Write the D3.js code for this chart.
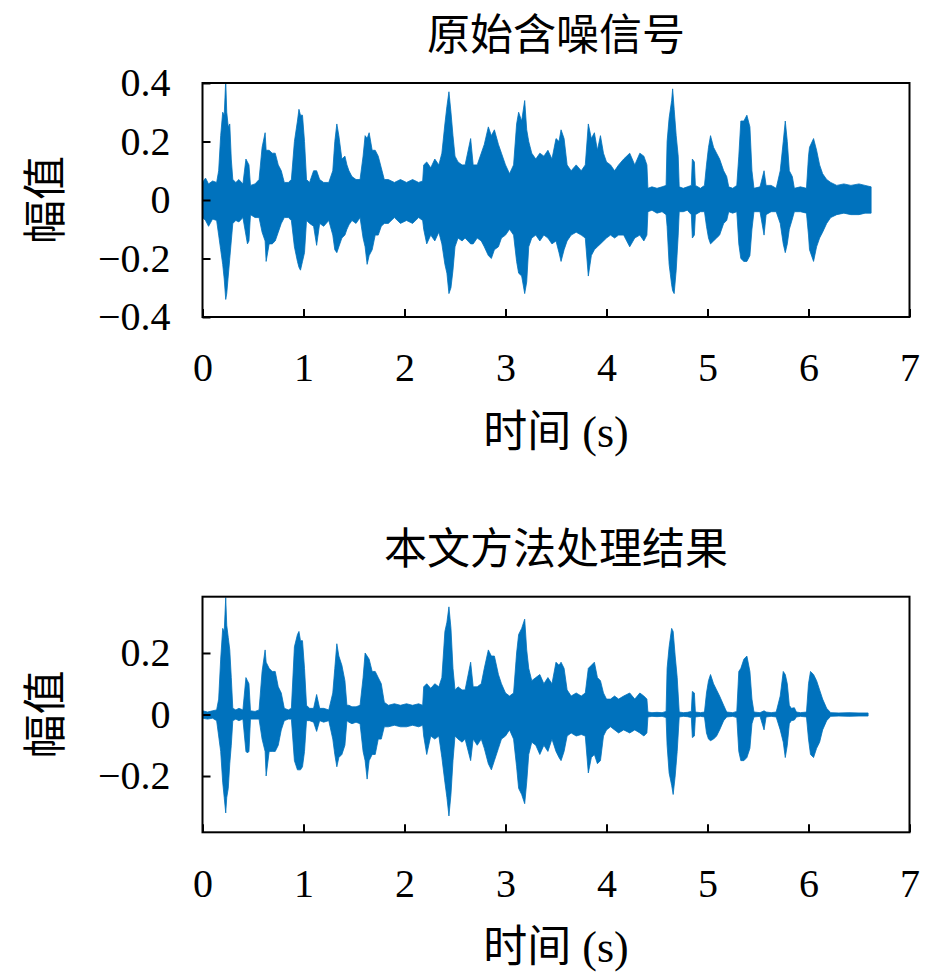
<!DOCTYPE html>
<html>
<head>
<meta charset="utf-8">
<script src="https://cdn.jsdelivr.net/npm/d3@7"></script>
<style>
  body { margin: 0; background: #fff; }
  svg { display: block; }
</style>
</head>
<body>
<div id="chart"></div>
<script>
'use strict';

// x axis, shared by both panels
const timeTicks = [0, 1, 2, 3, 4, 5, 6, 7];

// top panel: noisy speech, envelope (s, upper, lower)
const noisyYTicks = [-0.4, -0.2, 0, 0.2, 0.4];
const noisyTime = [
  0.00, 0.03, 0.06, 0.10, 0.14, 0.16, 0.18, 0.20, 0.215, 0.23,
  0.24, 0.255, 0.27, 0.285, 0.30, 0.33, 0.36, 0.40, 0.43, 0.445,
  0.46, 0.475, 0.52, 0.56, 0.59, 0.62, 0.63, 0.66, 0.69, 0.72,
  0.75, 0.78, 0.81, 0.85, 0.88, 0.91, 0.94, 0.955, 0.97, 0.99,
  1.01, 1.03, 1.06, 1.10, 1.13, 1.16, 1.20, 1.25, 1.29, 1.31,
  1.33, 1.35, 1.38, 1.41, 1.43, 1.45, 1.48, 1.52, 1.56, 1.59,
  1.61, 1.63, 1.65, 1.68, 1.71, 1.74, 1.77, 1.80, 1.84, 1.90,
  1.96, 2.02, 2.08, 2.14, 2.18, 2.19, 2.22, 2.26, 2.30, 2.34,
  2.37, 2.40, 2.42, 2.44, 2.46, 2.48, 2.50, 2.53, 2.57, 2.60,
  2.655, 2.68, 2.72, 2.76, 2.79, 2.83, 2.86, 2.89, 2.93, 2.96,
  3.00, 3.04, 3.08, 3.11, 3.13, 3.16, 3.19, 3.21, 3.23, 3.26,
  3.30, 3.34, 3.38, 3.42, 3.46, 3.50, 3.53, 3.55, 3.58, 3.61,
  3.65, 3.70, 3.75, 3.79, 3.82, 3.85, 3.88, 3.91, 3.94, 3.97,
  4.00, 4.04, 4.08, 4.12, 4.17, 4.23, 4.28, 4.33, 4.37, 4.40,
  4.41, 4.45, 4.50, 4.55, 4.59, 4.60, 4.62, 4.645, 4.655, 4.67,
  4.69, 4.71, 4.72, 4.76, 4.80, 4.84, 4.85, 4.87, 4.88, 4.93,
  4.97, 4.99, 5.01, 5.03, 5.06, 5.09, 5.12, 5.16, 5.19, 5.21,
  5.25, 5.29, 5.31, 5.33, 5.36, 5.39, 5.42, 5.44, 5.46, 5.52,
  5.56, 5.58, 5.63, 5.68, 5.72, 5.75, 5.77, 5.79, 5.81, 5.84,
  5.86, 5.92, 5.98, 6.00, 6.01, 6.05, 6.08, 6.11, 6.14, 6.18,
  6.22, 6.28, 6.35, 6.42, 6.50, 6.56, 6.62
];
const noisyUpper = [
  0.060, 0.075, 0.055, 0.065, 0.060, 0.100, 0.220, 0.300, 0.290, 0.410,
  0.300, 0.250, 0.260, 0.140, 0.070, 0.060, 0.070, 0.055, 0.140, 0.130,
  0.120, 0.050, 0.055, 0.070, 0.180, 0.230, 0.170, 0.170, 0.160, 0.160,
  0.120, 0.100, 0.060, 0.060, 0.070, 0.200, 0.270, 0.310, 0.290, 0.290,
  0.200, 0.070, 0.060, 0.100, 0.100, 0.070, 0.060, 0.060, 0.100, 0.200,
  0.260, 0.220, 0.140, 0.150, 0.120, 0.100, 0.080, 0.070, 0.070, 0.150,
  0.220, 0.210, 0.230, 0.170, 0.170, 0.150, 0.110, 0.070, 0.070, 0.060,
  0.070, 0.060, 0.070, 0.060, 0.065, 0.120, 0.130, 0.110, 0.140, 0.120,
  0.160, 0.260, 0.320, 0.370, 0.300, 0.220, 0.150, 0.130, 0.120, 0.120,
  0.210, 0.120, 0.120, 0.160, 0.190, 0.250, 0.220, 0.240, 0.190, 0.160,
  0.120, 0.090, 0.120, 0.260, 0.300, 0.270, 0.340, 0.240, 0.200, 0.160,
  0.140, 0.160, 0.150, 0.170, 0.140, 0.210, 0.200, 0.240, 0.210, 0.120,
  0.100, 0.120, 0.100, 0.120, 0.260, 0.210, 0.230, 0.170, 0.220, 0.160,
  0.130, 0.120, 0.100, 0.120, 0.140, 0.160, 0.120, 0.160, 0.150, 0.120,
  0.040, 0.045, 0.040, 0.045, 0.050, 0.200, 0.280, 0.340, 0.380, 0.310,
  0.220, 0.150, 0.045, 0.040, 0.045, 0.050, 0.140, 0.130, 0.050, 0.040,
  0.050, 0.120, 0.180, 0.220, 0.180, 0.160, 0.140, 0.100, 0.080, 0.045,
  0.040, 0.050, 0.150, 0.270, 0.270, 0.290, 0.250, 0.100, 0.040, 0.045,
  0.100, 0.050, 0.050, 0.040, 0.100, 0.200, 0.270, 0.200, 0.100, 0.080,
  0.040, 0.045, 0.040, 0.150, 0.180, 0.210, 0.170, 0.120, 0.090, 0.070,
  0.060, 0.050, 0.055, 0.050, 0.055, 0.050, 0.045
];
const noisyLower = [
  -0.060, -0.070, -0.090, -0.065, -0.070, -0.120, -0.170, -0.220, -0.270, -0.340,
  -0.320, -0.260, -0.200, -0.140, -0.080, -0.070, -0.075, -0.060, -0.120, -0.150,
  -0.140, -0.050, -0.060, -0.060, -0.110, -0.140, -0.210, -0.150, -0.150, -0.140,
  -0.110, -0.080, -0.060, -0.060, -0.070, -0.160, -0.210, -0.230, -0.240, -0.210,
  -0.180, -0.070, -0.080, -0.090, -0.155, -0.080, -0.090, -0.070, -0.120, -0.170,
  -0.180, -0.160, -0.130, -0.120, -0.100, -0.085, -0.070, -0.080, -0.060, -0.130,
  -0.160, -0.220, -0.190, -0.170, -0.120, -0.120, -0.090, -0.080, -0.080, -0.060,
  -0.080, -0.070, -0.080, -0.060, -0.070, -0.100, -0.150, -0.120, -0.140, -0.110,
  -0.150, -0.220, -0.250, -0.320, -0.300, -0.240, -0.160, -0.130, -0.140, -0.130,
  -0.150, -0.150, -0.130, -0.140, -0.160, -0.190, -0.200, -0.170, -0.160, -0.130,
  -0.120, -0.100, -0.120, -0.210, -0.250, -0.260, -0.320, -0.280, -0.160, -0.130,
  -0.120, -0.140, -0.120, -0.130, -0.150, -0.140, -0.180, -0.210, -0.170, -0.140,
  -0.120, -0.110, -0.120, -0.130, -0.260, -0.190, -0.170, -0.160, -0.150, -0.140,
  -0.130, -0.120, -0.130, -0.120, -0.120, -0.160, -0.130, -0.120, -0.140, -0.120,
  -0.040, -0.035, -0.045, -0.040, -0.050, -0.090, -0.220, -0.290, -0.310, -0.320,
  -0.240, -0.120, -0.040, -0.040, -0.035, -0.050, -0.130, -0.120, -0.050, -0.040,
  -0.040, -0.090, -0.130, -0.150, -0.140, -0.130, -0.120, -0.080, -0.070, -0.040,
  -0.045, -0.040, -0.150, -0.200, -0.210, -0.210, -0.190, -0.100, -0.040, -0.040,
  -0.120, -0.050, -0.040, -0.040, -0.080, -0.150, -0.180, -0.150, -0.100, -0.065,
  -0.040, -0.040, -0.045, -0.120, -0.170, -0.210, -0.160, -0.130, -0.110, -0.080,
  -0.060, -0.050, -0.045, -0.050, -0.050, -0.045, -0.045
];

// bottom panel: denoised result
const cleanYTicks = [-0.2, 0, 0.2];
const cleanTime = [
  0.00, 0.05, 0.10, 0.14, 0.16, 0.18, 0.20, 0.215, 0.23, 0.24,
  0.255, 0.27, 0.285, 0.30, 0.33, 0.36, 0.40, 0.43, 0.445, 0.46,
  0.475, 0.52, 0.56, 0.59, 0.62, 0.63, 0.66, 0.69, 0.72, 0.75,
  0.78, 0.81, 0.85, 0.88, 0.91, 0.94, 0.955, 0.97, 0.99, 1.01,
  1.03, 1.06, 1.10, 1.13, 1.16, 1.20, 1.25, 1.29, 1.31, 1.33,
  1.35, 1.38, 1.41, 1.43, 1.45, 1.48, 1.52, 1.56, 1.59, 1.61,
  1.63, 1.65, 1.68, 1.71, 1.74, 1.77, 1.80, 1.84, 1.90, 1.96,
  2.02, 2.08, 2.14, 2.18, 2.19, 2.22, 2.26, 2.30, 2.34, 2.37,
  2.40, 2.42, 2.44, 2.46, 2.48, 2.50, 2.53, 2.57, 2.60, 2.655,
  2.68, 2.72, 2.76, 2.79, 2.83, 2.86, 2.89, 2.93, 2.96, 3.00,
  3.04, 3.08, 3.11, 3.13, 3.16, 3.19, 3.21, 3.23, 3.26, 3.30,
  3.34, 3.38, 3.42, 3.46, 3.50, 3.53, 3.55, 3.58, 3.61, 3.65,
  3.70, 3.75, 3.79, 3.82, 3.85, 3.88, 3.91, 3.94, 3.97, 4.00,
  4.04, 4.08, 4.12, 4.17, 4.23, 4.28, 4.33, 4.37, 4.40, 4.41,
  4.45, 4.50, 4.55, 4.59, 4.60, 4.62, 4.645, 4.66, 4.68, 4.70,
  4.72, 4.76, 4.80, 4.84, 4.85, 4.87, 4.88, 4.93, 4.97, 4.99,
  5.01, 5.03, 5.06, 5.09, 5.12, 5.16, 5.19, 5.25, 5.29, 5.31,
  5.33, 5.36, 5.39, 5.42, 5.44, 5.46, 5.52, 5.56, 5.58, 5.63,
  5.68, 5.72, 5.75, 5.77, 5.79, 5.81, 5.83, 5.86, 5.88, 5.92,
  5.98, 6.00, 6.02, 6.05, 6.08, 6.11, 6.14, 6.18, 6.22, 6.30,
  6.40, 6.50, 6.59
];
const cleanUpper = [
  0.012, 0.008, 0.012, 0.015, 0.050, 0.180, 0.280, 0.270, 0.380, 0.290,
  0.250, 0.210, 0.120, 0.020, 0.015, 0.020, 0.015, 0.120, 0.110, 0.100,
  0.012, 0.010, 0.015, 0.140, 0.210, 0.170, 0.150, 0.140, 0.140, 0.090,
  0.070, 0.020, 0.015, 0.020, 0.220, 0.260, 0.270, 0.240, 0.240, 0.150,
  0.030, 0.020, 0.020, 0.065, 0.020, 0.020, 0.015, 0.070, 0.150, 0.230,
  0.190, 0.160, 0.110, 0.030, 0.030, 0.025, 0.025, 0.030, 0.120, 0.200,
  0.190, 0.180, 0.140, 0.140, 0.120, 0.100, 0.040, 0.030, 0.035, 0.030,
  0.035, 0.030, 0.035, 0.030, 0.090, 0.100, 0.085, 0.100, 0.090, 0.120,
  0.270, 0.300, 0.350, 0.280, 0.150, 0.080, 0.090, 0.080, 0.080, 0.170,
  0.090, 0.090, 0.100, 0.150, 0.210, 0.190, 0.190, 0.130, 0.100, 0.070,
  0.060, 0.070, 0.200, 0.260, 0.280, 0.310, 0.210, 0.150, 0.110, 0.120,
  0.130, 0.100, 0.120, 0.100, 0.170, 0.160, 0.170, 0.150, 0.080, 0.060,
  0.070, 0.060, 0.070, 0.150, 0.160, 0.170, 0.120, 0.110, 0.070, 0.050,
  0.050, 0.060, 0.050, 0.060, 0.070, 0.050, 0.070, 0.060, 0.050, 0.008,
  0.006, 0.007, 0.006, 0.010, 0.150, 0.220, 0.280, 0.270, 0.190, 0.120,
  0.008, 0.006, 0.007, 0.010, 0.075, 0.070, 0.008, 0.006, 0.008, 0.070,
  0.110, 0.130, 0.100, 0.080, 0.060, 0.030, 0.008, 0.006, 0.010, 0.140,
  0.150, 0.180, 0.190, 0.140, 0.050, 0.008, 0.006, 0.012, 0.008, 0.006,
  0.008, 0.060, 0.140, 0.130, 0.100, 0.030, 0.020, 0.022, 0.008, 0.006,
  0.008, 0.100, 0.140, 0.130, 0.110, 0.080, 0.050, 0.020, 0.006, 0.005,
  0.006, 0.005, 0.005
];
const cleanLower = [
  -0.012, -0.015, -0.012, -0.020, -0.070, -0.120, -0.220, -0.270, -0.320, -0.270,
  -0.240, -0.160, -0.100, -0.020, -0.015, -0.020, -0.015, -0.120, -0.125, -0.120,
  -0.015, -0.015, -0.015, -0.080, -0.120, -0.200, -0.120, -0.120, -0.120, -0.100,
  -0.050, -0.020, -0.015, -0.015, -0.150, -0.180, -0.180, -0.180, -0.170, -0.120,
  -0.020, -0.020, -0.025, -0.055, -0.020, -0.025, -0.020, -0.080, -0.130, -0.170,
  -0.140, -0.130, -0.100, -0.020, -0.025, -0.030, -0.025, -0.030, -0.120, -0.150,
  -0.210, -0.150, -0.130, -0.130, -0.080, -0.080, -0.040, -0.040, -0.035, -0.040,
  -0.040, -0.035, -0.040, -0.035, -0.070, -0.130, -0.070, -0.080, -0.070, -0.140,
  -0.220, -0.270, -0.330, -0.260, -0.150, -0.070, -0.080, -0.090, -0.080, -0.150,
  -0.080, -0.100, -0.080, -0.110, -0.160, -0.180, -0.150, -0.110, -0.080, -0.070,
  -0.050, -0.080, -0.170, -0.240, -0.260, -0.290, -0.220, -0.130, -0.090, -0.100,
  -0.130, -0.100, -0.120, -0.080, -0.120, -0.140, -0.150, -0.120, -0.070, -0.060,
  -0.070, -0.065, -0.070, -0.190, -0.140, -0.130, -0.160, -0.150, -0.070, -0.050,
  -0.040, -0.050, -0.060, -0.050, -0.060, -0.050, -0.060, -0.070, -0.060, -0.008,
  -0.006, -0.007, -0.006, -0.010, -0.100, -0.190, -0.230, -0.260, -0.200, -0.120,
  -0.008, -0.006, -0.007, -0.010, -0.075, -0.070, -0.008, -0.006, -0.008, -0.060,
  -0.080, -0.085, -0.080, -0.070, -0.050, -0.020, -0.008, -0.006, -0.010, -0.120,
  -0.150, -0.150, -0.140, -0.110, -0.030, -0.008, -0.006, -0.050, -0.008, -0.006,
  -0.008, -0.050, -0.090, -0.140, -0.100, -0.030, -0.020, -0.018, -0.008, -0.006,
  -0.008, -0.080, -0.130, -0.140, -0.110, -0.090, -0.050, -0.020, -0.006, -0.005,
  -0.006, -0.005, -0.005
];

const width = 945;
const height = 976;
const blue = '#0072BD';
const cjkFont = '"Noto Sans CJK SC", sans-serif';
const numFont = '"Liberation Serif", "DejaVu Serif", serif';

const svg = d3.select('#chart')
  .append('svg')
  .attr('width', width)
  .attr('height', height)
  .style('background', '#fff');

const panels = [
  { id: 'noisy', title: '原始含噪信号', time: noisyTime, upper: noisyUpper, lower: noisyLower,
    yDomain: [-0.4, 0.4], yTicks: noisyYTicks, top: 83, bottom: 317 },
  { id: 'clean', title: '本文方法处理结果', time: cleanTime, upper: cleanUpper, lower: cleanLower,
    yDomain: [-0.383, 0.383], yTicks: cleanYTicks, top: 596.7, bottom: 832.3 }
];

const plotLeft = 202.5;
const plotRight = 909.5;
const fmtY = d => d === 0 ? '0' : d3.format('.1f')(d);

panels.forEach(drawPanel);

function drawPanel(p) {
  const x = d3.scaleLinear().domain([0, 7]).range([plotLeft, plotRight]);
  const y = d3.scaleLinear().domain(p.yDomain).range([p.bottom, p.top]);
  const g = svg.append('g');

  g.append('clipPath')
    .attr('id', 'clip-' + p.id)
    .append('rect')
    .attr('x', plotLeft)
    .attr('y', p.top)
    .attr('width', plotRight - plotLeft)
    .attr('height', p.bottom - p.top);

  const rows = p.time.map((t, i) => ({ t: t, hi: p.upper[i], lo: p.lower[i] }));

  const area = d3.area()
    .x(d => x(d.t))
    .y0(d => y(d.lo))
    .y1(d => y(d.hi));

  g.append('path')
    .datum(rows)
    .attr('d', area)
    .attr('fill', blue)
    .attr('stroke', blue)
    .attr('stroke-width', 0.8)
    .attr('stroke-linejoin', 'round')
    .attr('clip-path', `url(#clip-${p.id})`);

  // ticks point inward, like the original figure
  const xAxis = d3.axisBottom(x)
    .tickValues(timeTicks)
    .tickSize(-8)
    .tickPadding(36)
    .tickFormat(d3.format('d'));

  const yAxis = d3.axisLeft(y)
    .tickValues(p.yTicks)
    .tickSize(-8)
    .tickPadding(32)
    .tickFormat(fmtY);

  const gx = g.append('g')
    .attr('transform', `translate(0,${p.bottom})`)
    .call(xAxis);
  const gy = g.append('g')
    .attr('transform', `translate(${plotLeft},0)`)
    .call(yAxis);

  [gx, gy].forEach(a => {
    a.select('.domain').remove();
    a.attr('font-family', numFont).attr('font-size', 40);
    a.selectAll('.tick line').attr('stroke', '#000').attr('stroke-width', 2);
    a.selectAll('.tick text').attr('fill', '#000');
  });

  // axes box
  g.append('rect')
    .attr('x', plotLeft)
    .attr('y', p.top)
    .attr('width', plotRight - plotLeft)
    .attr('height', p.bottom - p.top)
    .attr('fill', 'none')
    .attr('stroke', '#000')
    .attr('stroke-width', 2);

  const midX = (plotLeft + plotRight) / 2;

  g.append('text')
    .attr('x', midX)
    .attr('y', p.top - 33)
    .attr('text-anchor', 'middle')
    .attr('font-family', cjkFont)
    .attr('font-size', 43)
    .text(p.title);

  const xl = g.append('text')
    .attr('x', midX)
    .attr('y', p.bottom + 130)
    .attr('text-anchor', 'middle')
    .attr('font-size', 44);
  xl.append('tspan').attr('font-family', cjkFont).text('时间');
  xl.append('tspan').attr('font-family', numFont).text(' (s)');

  g.append('text')
    .attr('transform', `translate(45,${(p.top + p.bottom) / 2}) rotate(-90)`)
    .attr('dy', '0.36em')
    .attr('text-anchor', 'middle')
    .attr('font-family', cjkFont)
    .attr('font-size', 44)
    .text('幅值');
}
</script>
</body>
</html>
